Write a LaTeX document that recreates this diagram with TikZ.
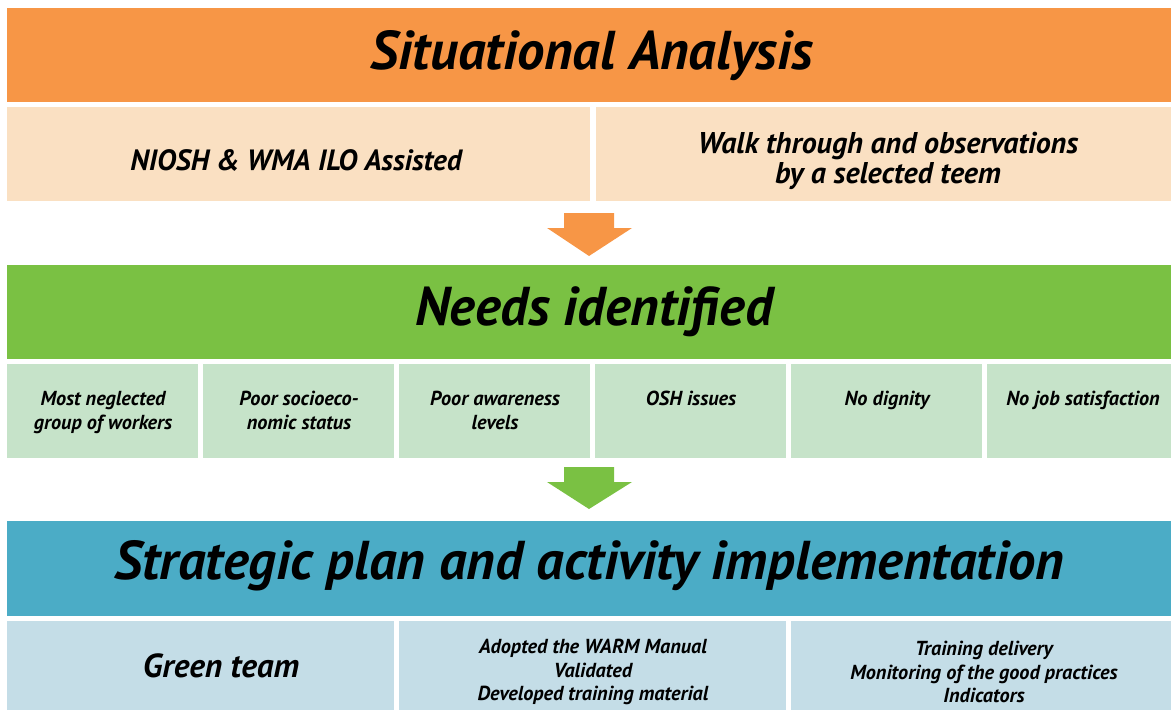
\documentclass[tikz,border=0pt]{standalone}
\usepackage{fontspec}
\setmainfont{PT Sans}

\definecolor{saOrange}{RGB}{247,150,70}
\definecolor{saLight}{RGB}{250,224,194}
\definecolor{niGreen}{RGB}{122,193,67}
\definecolor{niLight}{RGB}{198,227,201}
\definecolor{spBlue}{RGB}{75,172,198}
\definecolor{spLight}{RGB}{196,221,231}

\tikzset{
  headtext/.style={inner sep=0.75pt, font=\bfseries\itshape\fontsize{41}{44}\selectfont},
  boxtext/.style={inner sep=0.75pt, align=center, font=\bfseries\itshape\fontsize{22.5}{22.5}\selectfont},
  smalltext/.style={inner sep=0.75pt, align=center, font=\bfseries\itshape\fontsize{15.2}{18}\selectfont},
}

\begin{document}
\begin{tikzpicture}[x=0.75pt,y=0.75pt,yscale=-1,xscale=1]
\useasboundingbox (0,0) rectangle (1171,710);

% Situational analysis
\fill [saOrange] (7,8) rectangle (1171,102) ;
\draw (592,56) node [headtext] (saHead) {Situational Analysis};
\fill [saLight] (7,107) rectangle (590,201) ;
\fill [saLight] (596,107) rectangle (1171,201) ;
\draw (296,160) node [boxtext, font=\bfseries\itshape\fontsize{22}{22.5}\selectfont] (saLeft) {NIOSH \& WMA ILO Assisted};
\draw (888,161) node [boxtext] (saRight) {Walk through and observations\\by a selected teem};

% Block Arrow
\fill [saOrange] (564,213) -- (614,213) -- (614,228) -- (632,228) -- (589,256) -- (547,228) -- (564,228) -- cycle ;

% Needs identified
\fill [niGreen] (7,265) rectangle (1171,359) ;
\draw (594,312) node [headtext] (niHead) {Needs identified};
\foreach \i/\txt in {0/{Most neglected\\group of workers},1/{Poor socioeco-\\nomic status},2/{Poor awareness\\levels},3/{OSH issues},4/{No dignity},5/{No job satisfaction}}{
  \fill [niLight] (7+196*\i,364) rectangle ({min(198+196*\i,1171)},458) ;
  \draw (103+196*\i,390) node [smalltext, anchor=north] (ni\i) {\txt};
}

% Block Arrow
\fill [niGreen] (564,467) -- (614,467) -- (614,482) -- (632,482) -- (589,509) -- (547,482) -- (564,482) -- cycle ;

% Strategic plan
\fill [spBlue] (7,521) rectangle (1171,616) ;
\draw (589,566) node [headtext] (spHead) {Strategic plan and activity implementation};
\fill [spLight] (7,621) rectangle (394,710) ;
\fill [spLight] (399,621) rectangle (786,710) ;
\fill [spLight] (791,621) rectangle (1171,710) ;
\draw (221,666) node [boxtext, font=\bfseries\itshape\fontsize{25}{27}\selectfont] (spLeft) {Green team};
\draw (593,672) node [smalltext, font=\bfseries\itshape\fontsize{15.2}{17.8}\selectfont] (spMid) {Adopted the WARM Manual\\Validated\\Developed training material};
\draw (984,672) node [smalltext, font=\bfseries\itshape\fontsize{15.2}{17.8}\selectfont] (spRight) {Training delivery\\Monitoring of the good practices\\Indicators};

\end{tikzpicture}
\end{document}
